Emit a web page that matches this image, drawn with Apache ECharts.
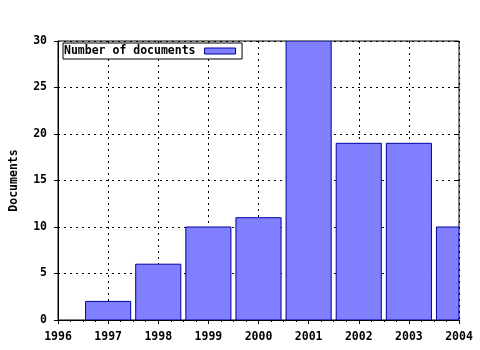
<!DOCTYPE html>
<html><head><meta charset="utf-8">
<script src="https://cdn.jsdelivr.net/npm/echarts@6/dist/echarts.min.js"></script>
<style>html,body{margin:0;padding:0;background:#fff}#c{width:480px;height:350px}</style>
</head><body><div id="c"></div>
<script>
const years = [1997, 1998, 1999, 2000, 2001, 2002, 2003, 2004];
const documents = [2, 6, 10, 11, 30, 19, 19, 10];
const seriesName = 'Number of documents';
const yAxisName = 'Documents';

const font = 'DejaVu Sans Mono';
const barFrac = 0.9; // bar width as fraction of one year
const chart = echarts.init(document.getElementById('c'), null, {renderer: 'canvas'});
const dotted = {color: '#000', type: [2, 4], width: 1};
chart.setOption({
  animation: false,
  backgroundColor: '#fff',
  grid: {left: 58, right: 21, top: 41, bottom: 30, show: true, borderColor: '#000', borderWidth: 1},
  legend: {
    show: true, left: 63, top: 43, align: 'right', orient: 'horizontal',
    itemWidth: 31, itemHeight: 6, itemGap: 4,
    padding: [2, 6, 2, 1], borderColor: '#000', borderWidth: 1, backgroundColor: '#fff',
    itemStyle: {color: '#8080ff', borderColor: '#0000a0', borderWidth: 1},
    textStyle: {fontFamily: font, fontWeight: 'bold', fontSize: 11.5, color: '#000', padding: [0, 4, 0, 0]},
    data: [{name: seriesName, icon: 'rect'}]
  },
  xAxis: [{
    type: 'value', min: 1996, max: 2004, interval: 1,
    axisLine: {lineStyle: {color: '#000'}},
    axisTick: {show: true, inside: false, length: 4, lineStyle: {color: '#000'}},
    minorTick: {show: true, splitNumber: 4, length: 2, lineStyle: {color: '#000'}},
    splitLine: {show: true, lineStyle: dotted},
    axisLabel: {fontFamily: font, fontWeight: 'bold', fontSize: 11.5, color: '#000', margin: 11, formatter: v => String(v)}
  }, {
    type: 'value', min: 1996, max: 2004, interval: 1, position: 'top',
    axisLine: {show: false},
    axisTick: {show: true, inside: true, length: 4, lineStyle: {color: '#000'}},
    minorTick: {show: true, splitNumber: 4, length: 2, lineStyle: {color: '#000'}},
    splitLine: {show: false}, axisLabel: {show: false}
  }],
  yAxis: [{
    type: 'value', min: 0, max: 30, interval: 5,
    name: yAxisName, nameLocation: 'middle', nameGap: 38, nameRotate: 90,
    nameTextStyle: {fontFamily: font, fontWeight: 'bold', fontSize: 11.5, color: '#000'},
    axisLine: {show: true, lineStyle: {color: '#000'}},
    axisTick: {show: true, inside: false, length: 4, lineStyle: {color: '#000'}},
    splitLine: {show: true, lineStyle: dotted},
    axisLabel: {fontFamily: font, fontWeight: 'bold', fontSize: 11.5, color: '#000', margin: 11}
  }, {
    type: 'value', min: 0, max: 30, interval: 5, position: 'right',
    axisLine: {show: false},
    axisTick: {show: true, inside: true, length: 4, lineStyle: {color: '#000'}},
    splitLine: {show: false}, axisLabel: {show: false}
  }],
  series: [{
    name: seriesName, type: 'custom', xAxisIndex: 0, yAxisIndex: 0,
    data: years.map((y, i) => [y, documents[i]]),
    encode: {x: 0, y: 1},
    clip: true,
    itemStyle: {color: '#8080ff', borderColor: '#0000a0', borderWidth: 1},
    renderItem: function (params, api) {
      const x = api.value(0), v = api.value(1);
      const p0 = api.coord([x - barFrac / 2, v]);
      const p1 = api.coord([x + barFrac / 2, 0]);
      const cs = params.coordSys;
      const shape = echarts.graphic.clipRectByRect(
        {x: p0[0], y: p0[1], width: p1[0] - p0[0], height: p1[1] - p0[1]},
        {x: cs.x, y: cs.y, width: cs.width, height: cs.height});
      if (!shape) return null;
      return {type: 'rect', shape: shape,
        style: {fill: '#8080ff', stroke: '#0000a0', lineWidth: 1}};
    }
  }]
});
</script></body></html>
